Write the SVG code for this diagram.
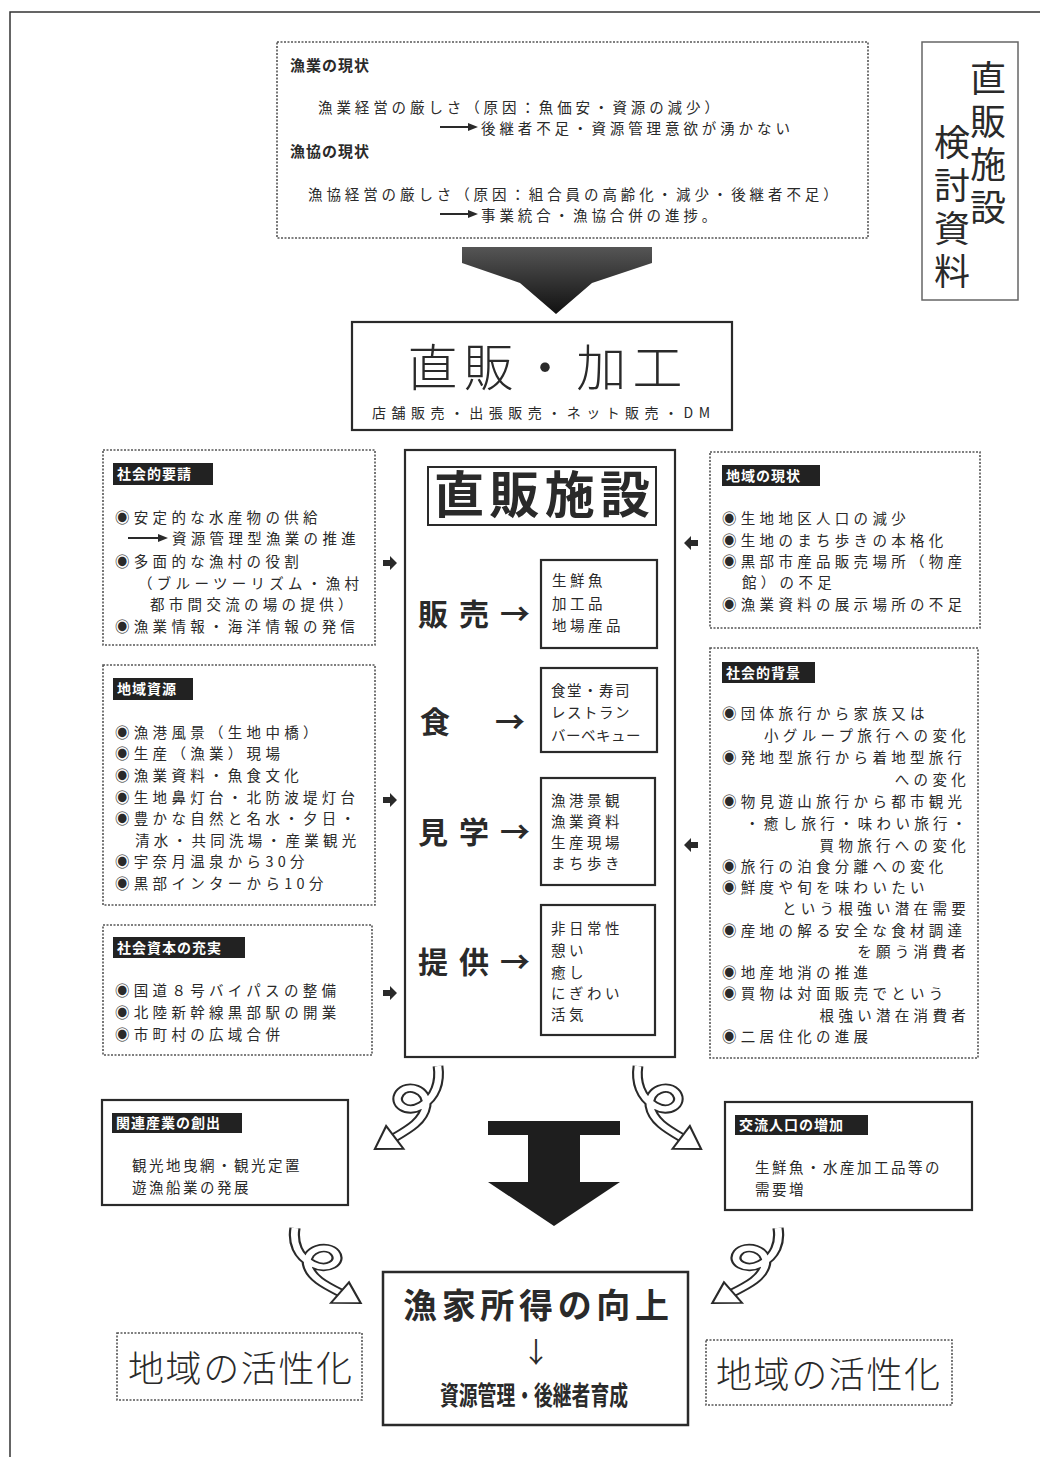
<svg xmlns="http://www.w3.org/2000/svg" xmlns:xlink="http://www.w3.org/1999/xlink" width="1060" height="1457" viewBox="0 0 1060 1457">
<style>
text{font-family:"Noto Sans CJK JP","Noto Sans CJK SC",sans-serif;fill:#2a2a2a}
.dot{fill:#fff;stroke:#555;stroke-width:1.6;stroke-dasharray:2 1.5}
.solid{fill:#fff;stroke:#2a2a2a;stroke-width:2.2}
.t16{font-size:14.5px;letter-spacing:4.3px}
.t15{font-size:14.5px;letter-spacing:3.9px}
.hd{font-size:15px;font-weight:bold;letter-spacing:1px}
.hdw{font-size:14px;font-weight:bold;fill:#fff;letter-spacing:1px}
.it{font-size:14.5px;letter-spacing:3.5px}
.lab{font-size:30px;font-weight:bold}
.big{font-size:36px;font-weight:300}
.tube1{fill:none;stroke:#2a2a2a;stroke-width:9;stroke-linecap:butt}
.tube2{fill:none;stroke:#fff;stroke-width:5.5;stroke-linecap:butt}
</style>
<defs>
<symbol id="fat" overflow="visible"><polygon points="0,-3 7,-3 7,-7 14,0 7,7 7,3 0,3" fill="#2a2a2a"/></symbol>
<g id="swirl">
<path class="tube1" d="M0,0 C2,15 -2,30 -14,38 C-26,46 -38,36 -32,26 C-26,16 -8,22 -10,38 C-12,52 -24,60 -36,68"/>
<path class="tube2" d="M0,0 C2,15 -2,30 -14,38 C-26,46 -38,36 -32,26 C-26,16 -8,22 -10,38 C-12,52 -24,60 -36,68"/>
<polygon points="-28.8,78.8 -52.6,79 -43.2,57.2" fill="#fff" stroke="#2a2a2a" stroke-width="1.8"/>
</g>
<linearGradient id="gd" x1="0" y1="0" x2="0" y2="1"><stop offset="0" stop-color="#555"/><stop offset="1" stop-color="#111"/></linearGradient>
</defs>
<rect width="1060" height="1457" fill="#fff"/>
<path d="M10,1457 L10,12 L1040,12" fill="none" stroke="#333" stroke-width="1.5"/>

<g id="top-status">
<rect class="dot" x="277" y="42" width="591" height="196"/>
<text class="hd" x="290" y="71">漁業の現状</text>
<text class="t15" x="318" y="113">漁業経営の厳しさ（原因：魚価安・資源の減少）</text>
<text class="t15" x="481" y="134">後継者不足・資源管理意欲が湧かない</text>
<text class="hd" x="290" y="157">漁協の現状</text>
<text class="t15" x="308" y="200">漁協経営の厳しさ（原因：組合員の高齢化・減少・後継者不足）</text>
<text class="t15" x="481" y="221">事業統合・漁協合併の進捗。</text>
</g>

<g id="title">
<rect x="922" y="42" width="96" height="258" fill="#fff" stroke="#666" stroke-width="1.5"/>
<text x="988" y="60" style="writing-mode:vertical-rl;font-size:36px;letter-spacing:7px">直販施設</text>
<text x="952" y="124" style="writing-mode:vertical-rl;font-size:36px;letter-spacing:7px">検討資料</text>
</g>

<g id="chokuhan-kako">
<rect class="solid" x="352" y="322" width="380" height="108"/>
<text x="545" y="386" text-anchor="middle" style="font-size:50px;font-weight:300" textLength="275">直販・加工</text>
<text x="541" y="418" text-anchor="middle" style="font-size:14px" textLength="338">店舗販売・出張販売・ネット販売・DM</text>
</g>

<g id="shakai-yosei">
<rect class="dot" x="103" y="450" width="272" height="195"/>
<rect x="113" y="463" width="100" height="22" fill="#222"/>
<text class="hdw" x="117" y="479">社会的要請</text>
<text class="t16" x="115" y="523">◉安定的な水産物の供給</text>
<text class="t16" x="172" y="544">資源管理型漁業の推進</text>
<text class="t16" x="115" y="567">◉多面的な漁村の役割</text>
<text class="t16" x="138" y="589">（ブルーツーリズム・漁村</text>
<text class="t16" x="150" y="610">都市間交流の場の提供）</text>
<text class="t16" x="115" y="632">◉漁業情報・海洋情報の発信</text>
</g>

<g id="chiiki-shigen">
<rect class="dot" x="103" y="665" width="272" height="240"/>
<rect x="113" y="678" width="80" height="22" fill="#222"/>
<text class="hdw" x="117" y="694">地域資源</text>
<text class="t16" x="115" y="738">◉漁港風景（生地中橋）</text>
<text class="t16" x="115" y="759">◉生産（漁業）現場</text>
<text class="t16" x="115" y="781">◉漁業資料・魚食文化</text>
<text class="t16" x="115" y="803">◉生地鼻灯台・北防波堤灯台</text>
<text class="t16" x="115" y="824">◉豊かな自然と名水・夕日・</text>
<text class="t16" x="135" y="846">清水・共同洗場・産業観光</text>
<text class="t16" x="115" y="867">◉宇奈月温泉から30分</text>
<text class="t16" x="115" y="889">◉黒部インターから10分</text>
</g>

<g id="shakai-shihon">
<rect class="dot" x="103" y="925" width="269" height="130"/>
<rect x="113" y="937" width="132" height="21" fill="#222"/>
<text class="hdw" x="117" y="953">社会資本の充実</text>
<text class="t16" x="115" y="996">◉国道８号バイパスの整備</text>
<text class="t16" x="115" y="1018">◉北陸新幹線黒部駅の開業</text>
<text class="t16" x="115" y="1040">◉市町村の広域合併</text>
</g>

<g id="chiiki-genjo">
<rect class="dot" x="710" y="452" width="270" height="176"/>
<rect x="722" y="465" width="98" height="21" fill="#222"/>
<text class="hdw" x="726" y="481">地域の現状</text>
<text class="t16" x="722" y="524">◉生地地区人口の減少</text>
<text class="t16" x="722" y="546">◉生地のまち歩きの本格化</text>
<text class="t16" x="722" y="567">◉黒部市産品販売場所（物産</text>
<text class="t16" x="742" y="588">館）の不足</text>
<text class="t16" x="722" y="610">◉漁業資料の展示場所の不足</text>
</g>

<g id="shakai-haikei">
<rect class="dot" x="710" y="648" width="268" height="410"/>
<rect x="722" y="662" width="93" height="21" fill="#222"/>
<text class="hdw" x="726" y="678">社会的背景</text>
<text class="t16" x="722" y="719">◉団体旅行から家族又は</text>
<text class="t16" x="970" y="741" text-anchor="end">小グループ旅行への変化</text>
<text class="t16" x="722" y="763">◉発地型旅行から着地型旅行</text>
<text class="t16" x="970" y="785" text-anchor="end">への変化</text>
<text class="t16" x="722" y="807">◉物見遊山旅行から都市観光</text>
<text class="t16" x="745" y="829">・癒し旅行・味わい旅行・</text>
<text class="t16" x="970" y="851" text-anchor="end">買物旅行への変化</text>
<text class="t16" x="722" y="872">◉旅行の泊食分離への変化</text>
<text class="t16" x="722" y="893">◉鮮度や旬を味わいたい</text>
<text class="t16" x="970" y="914" text-anchor="end">という根強い潜在需要</text>
<text class="t16" x="722" y="936">◉産地の解る安全な食材調達</text>
<text class="t16" x="970" y="957" text-anchor="end">を願う消費者</text>
<text class="t16" x="722" y="978">◉地産地消の推進</text>
<text class="t16" x="722" y="999">◉買物は対面販売でという</text>
<text class="t16" x="970" y="1021" text-anchor="end">根強い潜在消費者</text>
<text class="t16" x="722" y="1042">◉二居住化の進展</text>
</g>

<g id="chokuhan-shisetsu">
<rect class="solid" x="405" y="450" width="270" height="607"/>
<rect x="428" y="467" width="228" height="58" fill="#fff" stroke="#2a2a2a" stroke-width="2"/>
<text x="542" y="513" text-anchor="middle" style="font-size:50px;font-weight:bold" textLength="216">直販施設</text>
<text class="lab" x="418" y="625" textLength="112">販売→</text>
<text class="lab"><tspan x="420" y="733">食</tspan><tspan x="495" y="733">→</tspan></text>
<text class="lab" x="418" y="843" textLength="112">見学→</text>
<text class="lab" x="418" y="973" textLength="112">提供→</text>
<rect class="solid" x="541" y="560" width="116" height="88"/>
<text class="it" x="552" y="586">生鮮魚</text>
<text class="it" x="552" y="609">加工品</text>
<text class="it" x="552" y="631">地場産品</text>
<rect class="solid" x="541" y="668" width="116" height="84"/>
<text class="it" x="551" y="696" style="letter-spacing:1.5px">食堂・寿司</text>
<text class="it" x="551" y="718" style="letter-spacing:1.5px">レストラン</text>
<text class="it" x="551" y="741" style="letter-spacing:0.5px">バーベキュー</text>
<rect class="solid" x="541" y="778" width="114" height="107"/>
<text class="it" x="551" y="806">漁港景観</text>
<text class="it" x="551" y="827">漁業資料</text>
<text class="it" x="551" y="848">生産現場</text>
<text class="it" x="551" y="869">まち歩き</text>
<rect class="solid" x="541" y="905" width="114" height="130"/>
<text class="it" x="551" y="934">非日常性</text>
<text class="it" x="551" y="956">憩い</text>
<text class="it" x="551" y="978">癒し</text>
<text class="it" x="551" y="999">にぎわい</text>
<text class="it" x="551" y="1020">活気</text>
</g>

<g id="kanren-sangyo">
<rect class="solid" x="102" y="1100" width="246" height="105"/>
<rect x="112" y="1113" width="130" height="20" fill="#222"/>
<text class="hdw" x="116" y="1128">関連産業の創出</text>
<text class="t16" x="132" y="1171" style="letter-spacing:2.5px">観光地曳網・観光定置</text>
<text class="t16" x="132" y="1193" style="letter-spacing:2.5px">遊漁船業の発展</text>
</g>

<g id="koryu-jinko">
<rect class="solid" x="725" y="1102" width="247" height="108"/>
<rect x="735" y="1115" width="133" height="20" fill="#222"/>
<text class="hdw" x="739" y="1130">交流人口の増加</text>
<text class="t16" x="755" y="1173" style="letter-spacing:2.5px">生鮮魚・水産加工品等の</text>
<text class="t16" x="755" y="1195" style="letter-spacing:2.5px">需要増</text>
</g>

<g id="gyoka-shotoku">
<rect x="383" y="1272" width="305" height="153" fill="#fff" stroke="#2a2a2a" stroke-width="2.5"/>
<text x="536" y="1318" text-anchor="middle" style="font-size:34px;font-weight:bold" textLength="266">漁家所得の向上</text>
<text x="536" y="1363" text-anchor="middle" style="font-size:28px">↓</text>
<text x="534" y="1405" text-anchor="middle" style="font-size:26px;font-weight:bold" textLength="188" lengthAdjust="spacingAndGlyphs">資源管理・後継者育成</text>
</g>

<g id="kasseika-left">
<rect class="dot" x="117" y="1333" width="245" height="67"/>
<text class="big" x="240" y="1382" text-anchor="middle" textLength="224">地域の活性化</text>
</g>
<g id="kasseika-right">
<rect class="dot" x="706" y="1340" width="246" height="65"/>
<text class="big" x="828" y="1388" text-anchor="middle" textLength="224">地域の活性化</text>
</g>

<g id="connectors">
<polygon points="462,247 652,247 652,263 592,283 556,314 520,283 462,263" fill="url(#gd)"/>
<polygon points="488,1121 620,1121 620,1135 580,1135 580,1182 620,1182 554,1226 488,1182 528,1182 528,1135 488,1135" fill="#1e1e1e"/>
<line x1="440" y1="127" x2="470" y2="127" stroke="#2a2a2a" stroke-width="2"/>
<polygon points="468,123 478,127 468,131" fill="#2a2a2a"/>
<line x1="440" y1="214" x2="470" y2="214" stroke="#2a2a2a" stroke-width="2"/>
<polygon points="468,210 478,214 468,218" fill="#2a2a2a"/>
<line x1="128" y1="538" x2="160" y2="538" stroke="#2a2a2a" stroke-width="2"/>
<polygon points="158,534 168,538 158,542" fill="#2a2a2a"/>
<use xlink:href="#fat" x="383" y="563"/>
<use xlink:href="#fat" x="383" y="800"/>
<use xlink:href="#fat" x="383" y="993"/>
<use xlink:href="#fat" transform="translate(698,543) scale(-1,1)"/>
<use xlink:href="#fat" transform="translate(698,845) scale(-1,1)"/>
<use xlink:href="#swirl" transform="translate(438,1066) scale(1.2,1.05)"/>
<use xlink:href="#swirl" transform="translate(638,1066) scale(-1.2,1.05)"/>
<use xlink:href="#swirl" transform="translate(295,1228) scale(-1.25,0.95)"/>
<use xlink:href="#swirl" transform="translate(778,1228) scale(1.25,0.95)"/>
</g>
</svg>
